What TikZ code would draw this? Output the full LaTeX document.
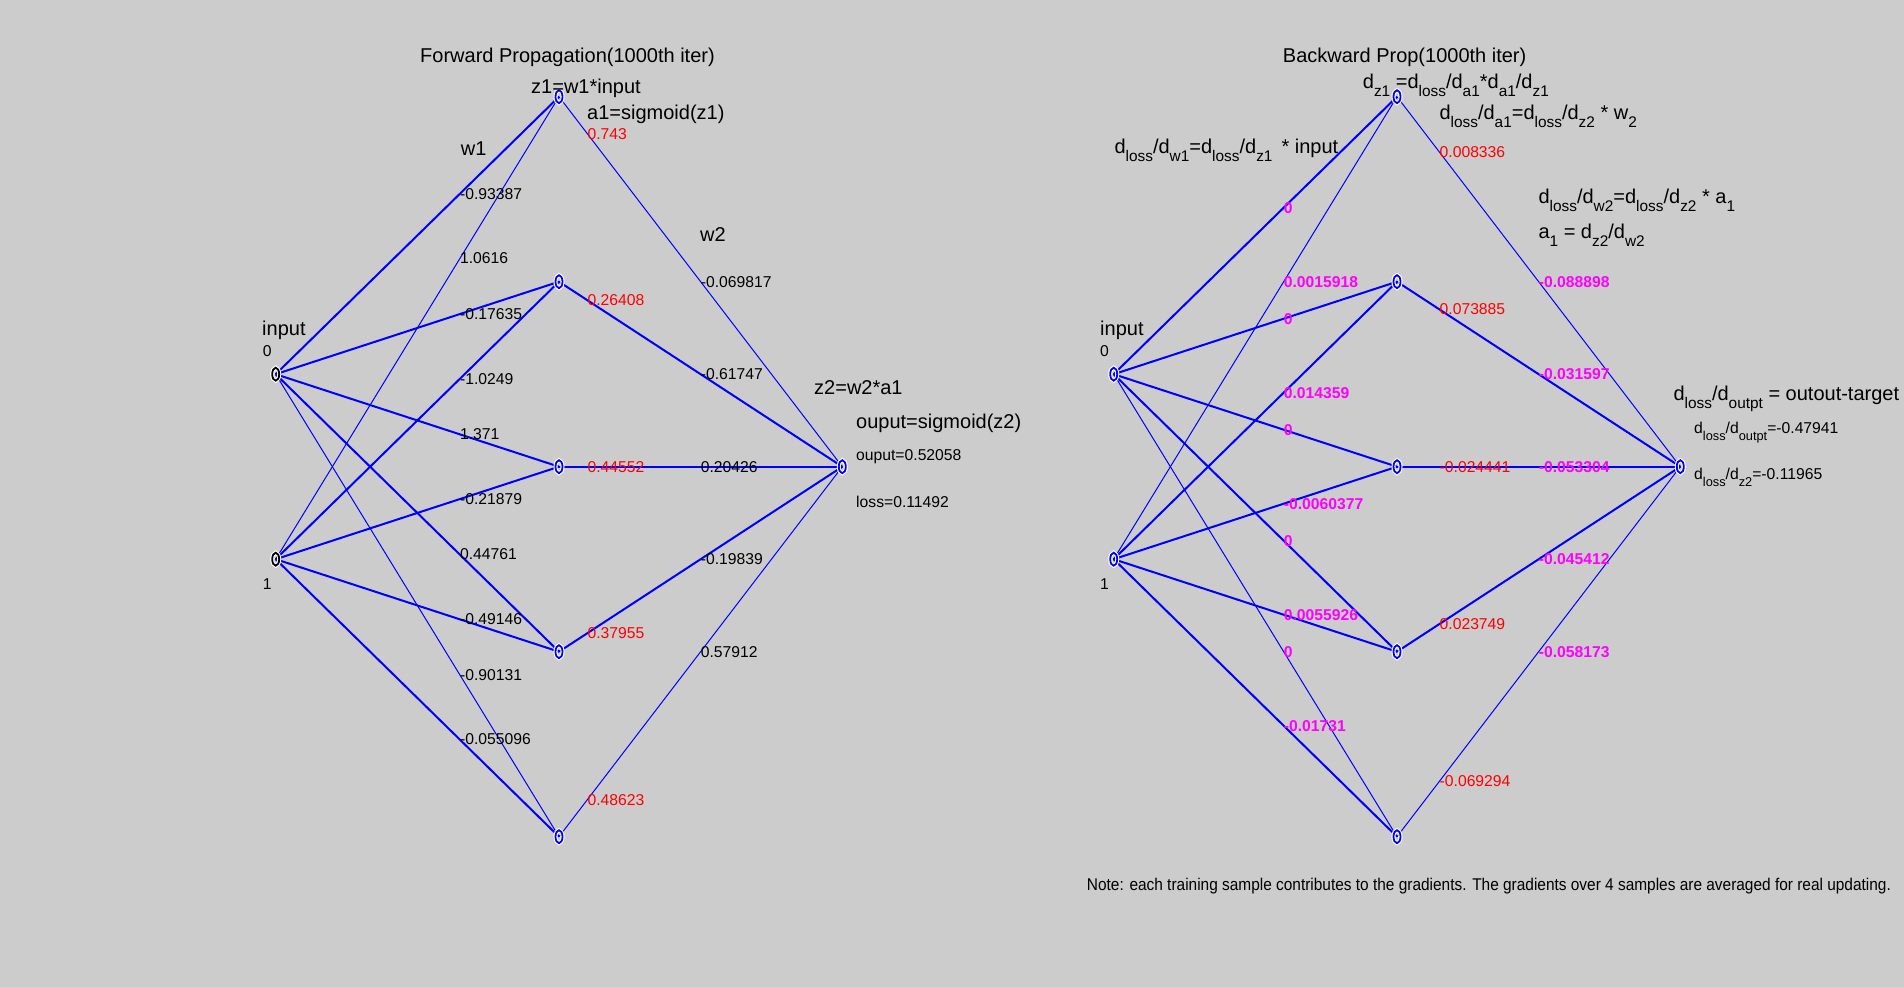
\documentclass[tikz,border=0pt]{standalone}
\usepackage{fontspec}
\setmainfont{Liberation Sans}
\usepackage{graphicx}
\usetikzlibrary{calc,shapes.geometric}
\pgfdeclarelayer{bgl}
\pgfdeclarelayer{edgel}
\pgfsetlayers{bgl,edgel,main}
\definecolor{bgc}{RGB}{204,204,204}
\definecolor{pblue}{RGB}{0,0,255}
\definecolor{pred}{RGB}{255,0,0}
\definecolor{pmag}{RGB}{255,0,255}
\newcommand\lowB[1]{\raisebox{-8pt}{\fontsize{15.4}{16}\selectfont #1}}
\newcommand\lowS[1]{\raisebox{-7pt}{\fontsize{12.8}{14}\selectfont #1}}
\tikzset{
  nmark/.style={ellipse, draw=pblue, line width=1.8pt, minimum width=7pt, minimum height=13pt, inner sep=0pt, preaction={draw=white, line width=4pt}},
  inmark/.style={nmark, draw=black},
  ethick/.style={draw=pblue, line width=2pt},
  ethin/.style={draw=pblue, line width=1pt},
  lab/.style={anchor=west, inner sep=0pt, font=\fontsize{15.7}{18}\selectfont},
  rlab/.style={lab, text=pred},
  mlab/.style={anchor=west, inner sep=0pt, text=pmag, font=\fontsize{15.7}{18}\selectfont\bfseries},
  bigt/.style={anchor=base west, inner sep=0pt, font=\fontsize{20}{24}\selectfont},
  smallt/.style={anchor=base west, inner sep=0pt, font=\fontsize{15.7}{18}\selectfont},
}
\begin{document}
\begin{tikzpicture}[x=1pt,y=-1pt]
\useasboundingbox (0,0) rectangle (1904,987);
\begin{pgfonlayer}{bgl}
\fill[bgc] (0,0) rectangle (1904,987);
\end{pgfonlayer}

% ---------------- left network nodes
\node[inmark] (i0) at (275.7,374.2) {};
\node[inmark] (i1) at (275.7,559.2) {};
\node[nmark] (h1) at (559,96.7) {};
\node[nmark] (h2) at (559,281.7) {};
\node[nmark] (h3) at (559,466.7) {};
\node[nmark] (h4) at (559,651.7) {};
\node[nmark] (h5) at (559,836.7) {};
\node[nmark] (o) at (842.3,466.7) {};

% ---------------- right network nodes
\node[nmark] (I0) at (1113.7,374.2) {};
\node[nmark] (I1) at (1113.7,559.2) {};
\node[nmark] (H1) at (1397,96.7) {};
\node[nmark] (H2) at (1397,281.7) {};
\node[nmark] (H3) at (1397,466.7) {};
\node[nmark] (H4) at (1397,651.7) {};
\node[nmark] (H5) at (1397,836.7) {};
\node[nmark] (O) at (1680.3,466.7) {};

% ---------------- edges
\begin{pgfonlayer}{edgel}
\draw[ethick] (i0.center) -- (h1.center);
\draw[ethick] (i0.center) -- (h2.center);
\draw[ethick] (i0.center) -- (h3.center);
\draw[ethick] (i0.center) -- (h4.center);
\draw[ethin]  (i0.center) -- (h5.center);
\draw[ethin]  (i1.center) -- (h1.center);
\draw[ethick] (i1.center) -- (h2.center);
\draw[ethick] (i1.center) -- (h3.center);
\draw[ethick] (i1.center) -- (h4.center);
\draw[ethick] (i1.center) -- (h5.center);
\draw[ethin]  (h1.center) -- (o.center);
\draw[ethick] (h2.center) -- (o.center);
\draw[ethick] (h3.center) -- (o.center);
\draw[ethick] (h4.center) -- (o.center);
\draw[ethin]  (h5.center) -- (o.center);
\draw[ethick] (I0.center) -- (H1.center);
\draw[ethick] (I0.center) -- (H2.center);
\draw[ethick] (I0.center) -- (H3.center);
\draw[ethick] (I0.center) -- (H4.center);
\draw[ethin]  (I0.center) -- (H5.center);
\draw[ethin]  (I1.center) -- (H1.center);
\draw[ethick] (I1.center) -- (H2.center);
\draw[ethick] (I1.center) -- (H3.center);
\draw[ethick] (I1.center) -- (H4.center);
\draw[ethick] (I1.center) -- (H5.center);
\draw[ethin]  (H1.center) -- (O.center);
\draw[ethick] (H2.center) -- (O.center);
\draw[ethick] (H3.center) -- (O.center);
\draw[ethick] (H4.center) -- (O.center);
\draw[ethin]  (H5.center) -- (O.center);
\end{pgfonlayer}

% ---------------- left labels
\node[lab] (a01) at ($(i0)!0.65!(h1)$) {-0.93387};
\node[lab] (a11) at ($(i1)!0.65!(h1)$) {1.0616};
\node[lab] (a02) at ($(i0)!0.65!(h2)$) {-0.17635};
\node[lab] (a12) at ($(i1)!0.65!(h2)$) {-1.0249};
\node[lab] (a03) at ($(i0)!0.65!(h3)$) {1.371};
\node[lab] (a13) at ($(i1)!0.65!(h3)$) {-0.21879};
\node[lab] (a04) at ($(i0)!0.65!(h4)$) {0.44761};
\node[lab] (a14) at ($(i1)!0.65!(h4)$) {-0.49146};
\node[lab] (a05) at ($(i0)!0.65!(h5)$) {-0.90131};
\node[lab] (a15) at ($(i1)!0.65!(h5)$) {-0.055096};
\node[lab] (b1) at ($(h1)!0.5!(o)$) {-0.069817};
\node[lab] (b2) at ($(h2)!0.5!(o)$) {-0.61747};
\node[lab] (b3) at ($(h3)!0.5!(o)$) {0.20426};
\node[lab] (b4) at ($(h4)!0.5!(o)$) {-0.19839};
\node[lab] (b5) at ($(h5)!0.5!(o)$) {0.57912};
\node[rlab] (c1) at ($(h1)!0.1!(o)$) {0.743};
\node[rlab] (c2) at ($(h2)!0.1!(o)$) {0.26408};
\node[rlab] (c3) at ($(h3)!0.1!(o)$) {0.44552};
\node[rlab] (c4) at ($(h4)!0.1!(o)$) {0.37955};
\node[rlab] (c5) at ($(h5)!0.1!(o)$) {0.48623};

\node[bigt] (ftitle) at (420,63) {Forward Propagation(1000th iter)};
\node[bigt] (fz1) at (531,93.3) {z1=w1*input};
\node[bigt] (fa1) at (587,119.3) {a1=sigmoid(z1)};
\node[bigt] (fw1) at (460.7,156) {w1};
\node[bigt] (fw2) at (700,242) {w2};
\node[bigt] (finp) at (262,335) {input};
\node[smallt] (fin0) at (262.7,356.7) {0};
\node[smallt] (fin1) at (262.7,589.3) {1};
\node[bigt] (fz2) at (814,394) {z2=w2*a1};
\node[bigt] (fout) at (856,428) {ouput=sigmoid(z2)};
\node[smallt] (foutv) at (856,460.7) {ouput=0.52058};
\node[smallt] (floss) at (856,507.3) {loss=0.11492};

% ---------------- right labels
\node[mlab] (d01) at ($(I0)!0.6!(H1)$) {0};
\node[mlab] (d11) at ($(I1)!0.6!(H1)$) {0.0015918};
\node[mlab] (d02) at ($(I0)!0.6!(H2)$) {0};
\node[mlab] (d12) at ($(I1)!0.6!(H2)$) {0.014359};
\node[mlab] (d03) at ($(I0)!0.6!(H3)$) {0};
\node[mlab] (d13) at ($(I1)!0.6!(H3)$) {-0.0060377};
\node[mlab] (d04) at ($(I0)!0.6!(H4)$) {0};
\node[mlab] (d14) at ($(I1)!0.6!(H4)$) {0.0055926};
\node[mlab] (d05) at ($(I0)!0.6!(H5)$) {0};
\node[mlab] (d15) at ($(I1)!0.6!(H5)$) {-0.01731};
\node[mlab] (e1) at ($(H1)!0.5!(O)$) {-0.088898};
\node[mlab] (e2) at ($(H2)!0.5!(O)$) {-0.031597};
\node[mlab] (e3) at ($(H3)!0.5!(O)$) {-0.053304};
\node[mlab] (e4) at ($(H4)!0.5!(O)$) {-0.045412};
\node[mlab] (e5) at ($(H5)!0.5!(O)$) {-0.058173};
\node[rlab] (g1) at ($(H1)!0.15!(O)$) {0.008336};
\node[rlab] (g2) at ($(H2)!0.15!(O)$) {0.073885};
\node[rlab] (g3) at ($(H3)!0.15!(O)$) {-0.024441};
\node[rlab] (g4) at ($(H4)!0.15!(O)$) {0.023749};
\node[rlab] (g5) at ($(H5)!0.15!(O)$) {-0.069294};

\node[bigt] (btitle) at (1282.7,63) {Backward Prop(1000th iter)};
\node[bigt] (bdz1) at (1362.7,88.3) {d\lowB{z1} =d\lowB{loss}/d\lowB{a1}*d\lowB{a1}/d\lowB{z1}};
\node[bigt] (bda1) at (1439.3,120) {d\lowB{loss}/d\lowB{a1}=d\lowB{loss}/d\lowB{z2} * w\lowB{2}};
\node[bigt] (bdw1) at (1114.3,153.3) {d\lowB{loss}/d\lowB{w1}=d\lowB{loss}/d\lowB{z1}\hspace{9pt}* input};
\node[bigt] (bdw2) at (1538.3,203.3) {d\lowB{loss}/d\lowB{w2}=d\lowB{loss}/d\lowB{z2} * a\lowB{1}};
\node[bigt] (ba1) at (1538.3,238.3) {a\lowB{1} = d\lowB{z2}/d\lowB{w2}};
\node[bigt] (binp) at (1100,335) {input};
\node[smallt] (bin0) at (1100,356.7) {0};
\node[smallt] (bin1) at (1100,589.3) {1};
\node[bigt] (bdout) at (1673.3,400) {d\lowB{loss}/d\lowB{outpt} = outout-target};
\node[smallt] (bdoutv) at (1694,433.3) {d\lowS{loss}/d\lowS{outpt}=-0.47941};
\node[smallt] (bdz2v) at (1694,479.3) {d\lowS{loss}/d\lowS{z2}=-0.11965};
\node[anchor=base west, inner sep=0pt] (note) at (1086.7,890.7) {\resizebox{804pt}{\height}{\fontsize{17}{20}\selectfont Note: each training sample contributes to the gradients. The gradients over 4 samples are averaged for real updating.}};
\end{tikzpicture}
\end{document}
